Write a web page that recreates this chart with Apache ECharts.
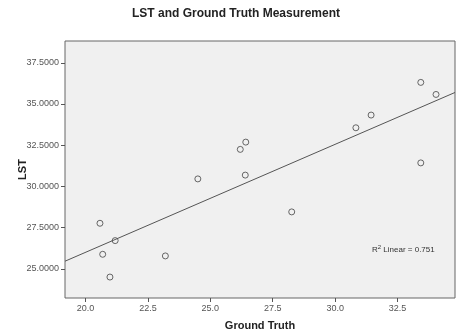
<!DOCTYPE html>
<html>
<head>
<meta charset="utf-8">
<script src="https://cdn.jsdelivr.net/npm/echarts@6/dist/echarts.min.js"></script>
<style>
  html, body { margin: 0; padding: 0; background: #fff; }
  #chart { width: 458px; height: 335px; }
</style>
</head>
<body>
<div id="chart"></div>
<script>
const groundTruth = [20.58, 20.69, 21.19, 20.98, 23.20, 24.50, 26.20, 26.42, 26.40, 28.26, 30.83, 31.44, 33.43, 34.04, 33.43];
const lst = [27.77, 25.89, 26.72, 24.51, 25.79, 30.46, 32.25, 32.69, 30.69, 28.46, 33.56, 34.33, 36.31, 35.58, 31.43];

// Fit line end points (as drawn across the plot)
const fitX = [19.18, 34.80];
const fitY = [25.47, 35.70];

const xTicks = [20.0, 22.5, 25.0, 27.5, 30.0, 32.5];
const yTicks = [25.0, 27.5, 30.0, 32.5, 35.0, 37.5];
const r2Text = '0.751';

const chart = echarts.init(document.getElementById('chart'), null, { renderer: 'canvas' });

const font = 'Liberation Sans, Arial, sans-serif';
const points = groundTruth.map((x, i) => [x, lst[i]]);
const fitLine = fitX.map((x, i) => [x, fitY[i]]);

const option = {
  animation: false,
  title: {
    text: 'LST and Ground Truth Measurement',
    left: 231,
    textAlign: 'center',
    top: 3,
    textStyle: { fontFamily: font, fontSize: 12, fontWeight: 'bold', color: '#222' }
  },
  grid: {
    left: 65,
    right: 3,
    top: 41,
    bottom: 37,
    outerBoundsMode: 'none',
    show: true,
    backgroundColor: '#f0f0f0',
    borderColor: '#666',
    borderWidth: 1
  },
  xAxis: {
    type: 'value',
    min: 19.18,
    max: 34.80,
    name: 'Ground Truth',
    nameLocation: 'middle',
    nameGap: 22,
    nameMoveOverlap: false,
    nameTextStyle: { fontFamily: font, fontSize: 11, fontWeight: 'bold', color: '#222' },
    axisLine: { show: false },
    splitLine: { show: false },
    axisTick: { show: true, length: 4, lineStyle: { color: '#555' }, customValues: xTicks },
    axisLabel: {
      fontFamily: font, fontSize: 9, color: '#555', margin: 6,
      customValues: xTicks,
      formatter: v => v.toFixed(1)
    }
  },
  yAxis: {
    type: 'value',
    min: 23.24,
    max: 38.82,
    name: 'LST',
    nameLocation: 'middle',
    nameGap: 37,
    nameMoveOverlap: false,
    nameTextStyle: { fontFamily: font, fontSize: 11, fontWeight: 'bold', color: '#222' },
    axisLine: { show: false },
    splitLine: { show: false },
    axisTick: { show: true, length: 4, lineStyle: { color: '#555' }, customValues: yTicks },
    axisLabel: {
      fontFamily: font, fontSize: 9, color: '#555', margin: 6,
      customValues: yTicks,
      formatter: v => v.toFixed(4)
    }
  },
  series: [
    {
      name: 'Linear fit',
      type: 'line',
      data: fitLine,
      symbol: 'none',
      silent: true,
      lineStyle: { color: '#555', width: 1 }
    },
    {
      name: 'LST',
      type: 'scatter',
      data: points,
      symbol: 'circle',
      symbolSize: 6,
      itemStyle: { color: 'rgba(0,0,0,0)', borderColor: '#444', borderWidth: 1 }
    }
  ],
  graphic: [
    {
      type: 'text',
      left: 372,
      top: 244,
      style: {
        text: '{n|R}{s|2}{n| Linear = ' + r2Text + '}',
        rich: {
          n: { fontFamily: font, fontSize: 8, fill: '#333' },
          s: { fontFamily: font, fontSize: 6, fill: '#333', verticalAlign: 'top', padding: [0, 0, 5, 0] }
        }
      }
    }
  ]
};

chart.setOption(option);
</script>
</body>
</html>
